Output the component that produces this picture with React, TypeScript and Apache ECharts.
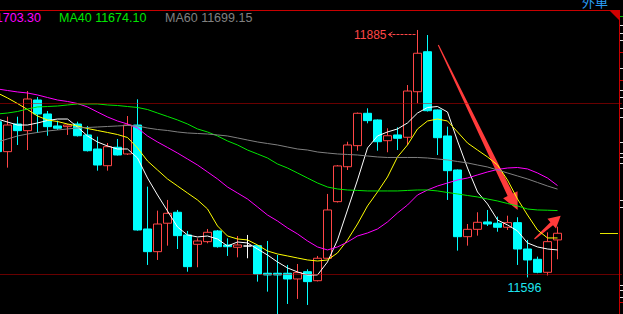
import React, { useEffect, useRef } from "react";
import * as echarts from "echarts";

// ---- data (one entry per trading day, left to right) ----
const days = Array.from({ length: 57 }, (_, i) => "D" + (i + 1));

const opens = [
  11777.9, 11742.9, 11775.2, 11767.4, 11803.2, 11786.9, 11772.9, 11772.1, 11775.2, 11762.4,
  11746.0, 11726.5, 11748.0, 11740.2, 11774.0, 11652.6, 11626.1, 11659.3, 11672.1, 11645.6,
  11634.7, 11637.8, 11650.3, 11633.9, 11631.2, 11632.7, 11633.1, 11600.9, 11600.9, 11600.9,
  11594.2, 11602.7, 11592.2, 11618.4, 11684.5, 11725.3, 11749.9, 11787.7, 11779.9, 11755.7,
  11762.4, 11759.7, 11812.9, 11859.6, 11791.6, 11761.2, 11721.5, 11643.6, 11652.2, 11660.8,
  11659.3, 11654.6, 11660.0, 11629.2, 11617.2, 11602.0, 11639.8,
];
const closes = [
  11742.9, 11774.0, 11767.4, 11804.4, 11786.9, 11772.1, 11770.2, 11774.0, 11761.5, 11744.0,
  11727.3, 11748.7, 11739.0, 11774.0, 11651.4, 11626.1, 11658.4, 11670.9, 11644.8, 11608.6,
  11638.6, 11648.7, 11631.9, 11631.9, 11633.9, 11632.7, 11600.0, 11598.9, 11598.9, 11594.2,
  11601.6, 11591.1, 11618.4, 11674.8, 11726.2, 11750.7, 11787.7, 11779.1, 11754.5, 11761.5,
  11758.5, 11813.7, 11857.8, 11790.7, 11759.2, 11720.7, 11643.6, 11652.2, 11660.4, 11658.4,
  11654.6, 11660.0, 11629.2, 11616.4, 11602.0, 11637.8, 11647.6,
];
const lows = [
  11740.2, 11724.2, 11750.7, 11744.8, 11764.7, 11761.5, 11768.2, 11762.4, 11760.6, 11743.1,
  11720.7, 11720.7, 11738.4, 11739.0, 11650.6, 11610.6, 11616.4, 11633.1, 11629.2, 11602.7,
  11607.9, 11635.9, 11630.8, 11621.1, 11619.5, 11618.4, 11591.1, 11579.4, 11548.7, 11565.0,
  11570.9, 11563.9, 11591.3, 11617.6, 11683.5, 11721.5, 11744.0, 11776.0, 11744.0, 11742.2,
  11744.8, 11750.7, 11799.4, 11789.8, 11739.0, 11686.5, 11627.3, 11633.1, 11644.8, 11656.1,
  11649.4, 11651.4, 11610.6, 11596.0, 11600.9, 11598.3, 11617.2,
];
const highs = [
  11781.0, 11783.7, 11783.7, 11813.7, 11806.7, 11790.4, 11779.1, 11775.2, 11777.9, 11772.9,
  11760.4, 11753.0, 11757.7, 11784.5, 11804.0, 11702.0, 11674.0, 11686.5, 11674.8, 11650.3,
  11641.7, 11652.6, 11651.4, 11641.7, 11644.4, 11645.6, 11633.9, 11638.6, 11622.2, 11610.6,
  11611.7, 11605.5, 11621.1, 11693.5, 11727.3, 11754.5, 11788.6, 11793.5, 11780.5, 11770.2,
  11771.3, 11820.7, 11885.0, 11879.1, 11792.1, 11772.1, 11722.1, 11658.4, 11672.1, 11674.8,
  11667.0, 11668.1, 11666.3, 11639.8, 11620.3, 11648.7, 11655.3,
];

const ma5 = [
  11781.0, 11777.5, 11774.0, 11774.0, 11776.4, 11779.3, 11781.0, 11781.0, 11771.7, 11761.2,
  11754.2, 11749.5, 11746.0, 11746.0, 11735.5, 11712.1, 11692.3, 11673.6, 11654.9, 11645.6,
  11643.3, 11644.4, 11640.9, 11632.7, 11637.4, 11636.3, 11629.2, 11622.2, 11614.1, 11607.1,
  11602.4, 11598.9, 11598.9, 11614.1, 11639.8, 11674.8, 11709.8, 11747.2, 11761.2, 11765.9,
  11769.4, 11776.4, 11788.0, 11794.5, 11795.6, 11789.2, 11755.4, 11723.8, 11695.8, 11681.8,
  11663.1, 11657.3, 11650.3, 11636.3, 11631.6, 11629.2, 11628.1,
];
const ma10 = [
  11811.4, 11805.6, 11799.1, 11792.1, 11784.5, 11779.9, 11778.1, 11775.2, 11772.9, 11769.9,
  11767.6, 11765.3, 11762.9, 11759.4, 11747.2, 11732.0, 11721.5, 11711.0, 11702.8, 11694.6,
  11686.5, 11676.0, 11656.1, 11644.4, 11640.9, 11639.8, 11633.9, 11626.9, 11623.4, 11621.1,
  11618.7, 11616.4, 11615.2, 11616.4, 11624.6, 11639.8, 11658.4, 11679.5, 11695.8, 11713.3,
  11736.7, 11750.7, 11769.4, 11778.7, 11781.0, 11778.7, 11765.9, 11753.0, 11744.8, 11736.7,
  11727.3, 11709.8, 11687.6, 11668.9, 11651.4, 11642.1, 11642.1,
];
const ma20 = [
  11816.1, 11814.3, 11812.6, 11811.4, 11809.1, 11806.1, 11803.2, 11801.5, 11799.1, 11795.1,
  11789.2, 11783.4, 11778.7, 11775.2, 11770.5, 11761.2, 11754.2, 11747.8, 11741.3, 11734.3,
  11727.3, 11719.2, 11711.0, 11701.6, 11694.6, 11687.6, 11678.3, 11668.9, 11661.9, 11653.8,
  11646.8, 11638.6, 11631.6, 11628.1, 11631.6, 11637.4, 11644.4, 11647.9, 11652.6, 11660.8,
  11671.3, 11680.6, 11692.3, 11698.1, 11702.8, 11706.3, 11709.8, 11712.1, 11715.7, 11719.2,
  11722.1, 11723.8, 11724.4, 11722.7, 11718.0, 11712.1, 11703.3,
];
const ma40 = [
  11786.9, 11788.0, 11789.8, 11792.7, 11795.1, 11795.6, 11796.2, 11797.4, 11798.6, 11798.6,
  11798.6, 11797.4, 11796.8, 11795.6, 11794.5, 11792.1, 11788.0, 11784.0, 11779.9, 11775.2,
  11769.4, 11765.9, 11761.2, 11755.4, 11750.7, 11744.8, 11740.2, 11735.5, 11728.5, 11723.8,
  11718.0, 11712.1, 11706.3, 11701.6, 11699.3, 11698.1, 11697.6, 11697.0, 11697.0, 11697.0,
  11697.0, 11697.6, 11698.1, 11698.1, 11697.0, 11695.2, 11693.5, 11691.7, 11690.0, 11687.6,
  11685.3, 11682.4, 11679.5, 11675.9, 11674.8, 11674.5, 11674.1,
];
const ma60 = [
  11754.2, 11757.7, 11761.2, 11763.5, 11765.3, 11767.0, 11768.2, 11769.4, 11770.5, 11771.1,
  11771.7, 11772.3, 11772.9, 11773.5, 11772.9, 11770.5, 11768.8, 11767.6, 11765.9, 11764.7,
  11764.1, 11763.5, 11762.4, 11761.2, 11758.9, 11756.5, 11754.2, 11752.4, 11750.7, 11748.3,
  11746.0, 11744.8, 11742.5, 11741.3, 11740.2, 11739.6, 11739.0, 11737.8, 11736.7, 11736.1,
  11736.1, 11736.1, 11736.1, 11735.5, 11734.3, 11733.2, 11731.4, 11729.7, 11727.3, 11725.0,
  11721.5, 11718.0, 11714.5, 11711.0, 11706.9, 11702.8, 11699.15,
];

const refLevels = [11800, 11600];
const legendNames = ["MA20", "MA40", "MA60"];
const topRightLabel = "外单";

// ---- styles / layout ----
const SHIFT = 8; // chart canvas starts 8px left of the page so the first day is half cut
const UP = "#ff4646";
const DOWN = "#00ffff";
const FRAME = "#c80000";
const maColors = {
  MA5: "#ffffff",
  MA10: "#ffff00",
  MA20: "#ff00ff",
  MA40: "#00e600",
  MA60: "#808080",
};
const FONT = "'Liberation Sans', Arial, sans-serif";

export default function App() {
  const ref = useRef<HTMLDivElement>(null);

  useEffect(() => {
    if (!ref.current) return;
    const chart = echarts.init(ref.current, null, { renderer: "svg" });
    const candles = opens.map((o, i) => [o, closes[i], lows[i], highs[i]]);
    const maSeries = [
      ["MA5", ma5],
      ["MA10", ma10],
      ["MA20", ma20],
      ["MA40", ma40],
      ["MA60", ma60],
    ].map(([name, data]: any) => ({
      name,
      type: "line",
      data,
      symbol: "none",
      showSymbol: false,
      lineStyle: { color: (maColors as any)[name], width: 1 },
      z: 3,
      silent: true,
    }));

    chart.setOption({
      animation: false,
      backgroundColor: "#000000",
      grid: { left: 0.5, right: 0.5, top: 0, bottom: 0 },
      xAxis: {
        type: "category",
        data: days,
        max: 62,
        boundaryGap: true,
        axisLine: { show: false },
        axisTick: { show: false },
        axisLabel: { show: false },
        splitLine: { show: false },
      },
      yAxis: {
        type: "value",
        min: 11553.3,
        max: 11920,
        show: false,
        splitLine: { show: false },
      },
      series: [
        {
          name: "K",
          type: "candlestick",
          data: candles,
          barWidth: 8,
          z: 2,
          itemStyle: {
            color: "#000000",
            color0: DOWN,
            borderColor: UP,
            borderColor0: DOWN,
            borderColorDoji: "#ffffff",
            borderWidth: 1,
          },
          markLine: {
            silent: true,
            symbol: ["none", "none"],
            label: { show: false },
            lineStyle: { type: [1, 1], color: "#d00000", width: 1 },
            data: refLevels.map((v) => ({ yAxis: v })),
          },
        },
        ...maSeries,
      ],
    });

    const px = (i: number, v: number) =>
      chart.convertToPixel({ gridIndex: 0 }, [i, v]) as number[];

    const maxHigh = Math.max(...highs);
    const hi = highs.indexOf(maxHigh);
    const afterPeak = lows.slice(hi);
    const minLow = Math.min(...afterPeak);
    const lo = hi + afterPeak.indexOf(minLow);
    const hp = px(hi, maxHigh);
    const lp = px(lo, minLow);
    const last = closes.length - 1;
    const cp = px(last, closes[last]);
    const ay = Math.round(hp[1] + 4) + 0.5;

    const legendVals = [ma20, ma40, ma60].map((a) => a[a.length - 1].toFixed(2));

    const whiteTicks = [25, 33, 40, 68, 90, 97, 108, 117, 142, 153, 157, 163, 200, 207, 285, 290, 297];
    const redTicks = [52, 80, 302];

    // page-fixed decorations, in page pixels
    const frame: any[] = [
      { type: "rect", shape: { x: 620, y: 0, width: 3, height: 314 }, style: { fill: "#000" } },
      { type: "line", shape: { x1: 0, y1: 10.5, x2: 619.5, y2: 10.5 }, style: { stroke: FRAME, lineWidth: 1 } },
      { type: "line", shape: { x1: 619.5, y1: 10, x2: 619.5, y2: 314 }, style: { stroke: FRAME, lineWidth: 1 } },
      { type: "polygon", shape: { points: [[609, 10], [620, 10], [620, 21]] }, style: { fill: "#d00000" } },
      ...whiteTicks.map((y) => ({
        type: "line",
        shape: { x1: 620, y1: y + 0.5, x2: 623, y2: y + 0.5 },
        style: { stroke: "#e0e0e0", lineWidth: 1 },
      })),
      ...redTicks.map((y) => ({
        type: "line",
        shape: { x1: 620, y1: y + 0.5, x2: 623, y2: y + 0.5 },
        style: { stroke: FRAME, lineWidth: 1 },
      })),
      { type: "line", shape: { x1: 620, y1: 16.5, x2: 623, y2: 16.5 }, style: { stroke: "#00c000", lineWidth: 1 } },
      {
        type: "text", x: 41, y: 18,
        style: { text: legendNames[0] + " " + legendVals[0], fill: maColors.MA20, font: `12.5px ${FONT}`, textAlign: "right", textVerticalAlign: "middle" },
      },
      {
        type: "text", x: 59, y: 18,
        style: { text: legendNames[1] + " " + legendVals[1], fill: maColors.MA40, font: `12.5px ${FONT}`, textAlign: "left", textVerticalAlign: "middle" },
      },
      {
        type: "text", x: 165, y: 18,
        style: { text: legendNames[2] + " " + legendVals[2], fill: maColors.MA60, font: `12.5px ${FONT}`, textAlign: "left", textVerticalAlign: "middle" },
      },
      {
        type: "text", x: 595, y: 1,
        style: { text: topRightLabel, fill: "#2a9df4", font: `13px 'Noto Sans CJK SC', sans-serif`, textAlign: "center", textVerticalAlign: "middle" },
      },
      // hand-drawn arrows
      {
        type: "polygon",
        shape: {
          points: [
            [437.8, 45.3], [507.6, 196.0], [503.1, 198.2], [517.7, 210],
            [517.5, 191.2], [513.0, 193.4], [438.8, 44.7],
          ],
        },
        style: { fill: "#ff3b3b" },
      },
      {
        type: "polygon",
        shape: {
          points: [
            [534.9, 239.4], [553.0, 225.2], [556.0, 228.6], [560.7, 215.7],
            [547.4, 218.8], [550.4, 222.2], [534.1, 238.6],
          ],
        },
        style: { fill: "#ff3b3b" },
      },
    ];

    // data-anchored marks, in chart pixels
    const anchored: any[] = [
      {
        type: "text", x: hp[0] - 31, y: ay, z: 101,
        style: { text: String(Math.round(maxHigh)), fill: UP, font: `12px ${FONT}`, textAlign: "right", textVerticalAlign: "middle" },
      },
      {
        type: "polyline", z: 101,
        shape: { points: [[hp[0] - 25, ay - 2.5], [hp[0] - 29, ay], [hp[0] - 25, ay + 2.5]] },
        style: { stroke: UP, lineWidth: 1, fill: null },
      },
      {
        type: "line", z: 101,
        shape: { x1: hp[0] - 29, y1: ay, x2: hp[0] - 2, y2: ay },
        style: { stroke: UP, lineWidth: 1, lineDash: [3, 1] },
      },
      {
        type: "text", x: lp[0] - 3, y: lp[1] + 11, z: 101,
        style: { text: String(Math.round(minLow)), fill: "#1ee6f0", font: `12.5px ${FONT}`, textAlign: "center", textVerticalAlign: "middle" },
      },
      {
        type: "line", z: 101,
        shape: { x1: 600 + SHIFT, y1: Math.round(cp[1]) + 0.5, x2: 618 + SHIFT, y2: Math.round(cp[1]) + 0.5 },
        style: { stroke: "#e6e600", lineWidth: 1 },
      },
    ];

    chart.setOption({
      graphic: [
        ...anchored,
        { type: "group", x: SHIFT, y: 0, z: 102, children: frame },
      ],
    });

    return () => chart.dispose();
  }, []);

  return (
    <div
      ref={ref}
      style={{ position: "fixed", left: -SHIFT, top: 0, width: 623 + SHIFT, height: 314, background: "#000" }}
    />
  );
}
